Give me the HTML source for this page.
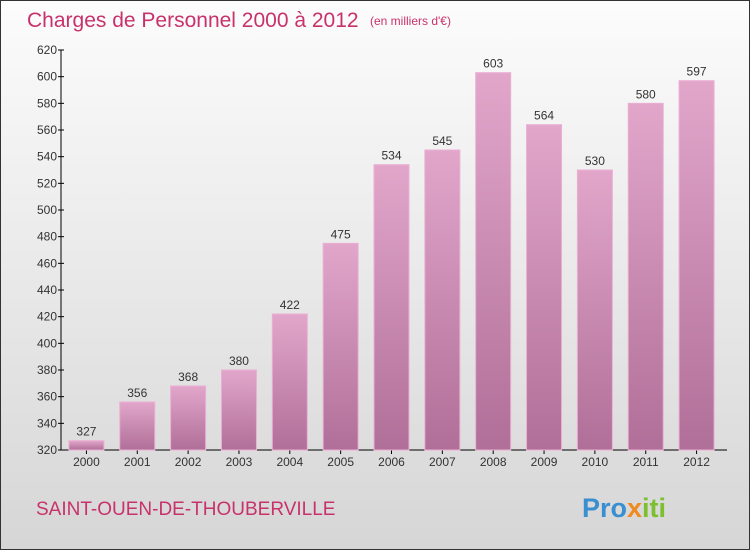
<!DOCTYPE html>
<html><head><meta charset="utf-8"><style>
html,body{margin:0;padding:0}
body{width:750px;height:550px;overflow:hidden;font-family:"Liberation Sans",sans-serif}
#frame{position:absolute;left:0;top:0;width:748px;height:548px;border:1px solid #333;background:linear-gradient(#fcfcfc,#d6d6d6);}
</style></head><body>
<div id="frame">
<svg width="750" height="550" style="position:absolute;left:-1px;top:-1px">
<defs><linearGradient id="bg" x1="0" y1="0" x2="0" y2="1"><stop offset="0" stop-color="#e2a6cb"/><stop offset="1" stop-color="#b06f98"/></linearGradient></defs>
<text x="27" y="27" font-size="21" fill="#c8326a">Charges de Personnel 2000 à 2012</text>
<text x="370" y="25" font-size="12" fill="#c8326a">(en milliers d'€)</text>
<text x="36" y="515" font-size="19" fill="#c8326a">SAINT-OUEN-DE-THOUBERVILLE</text>
<g font-size="27" font-weight="bold">
<text x="582" y="517"><tspan fill="#3a8fd0">Pro</tspan><tspan fill="#f08a1e">x</tspan><tspan fill="#7cbf2f">iti</tspan></text></g>
<g id="axes"></g><g id="bars"></g>
</svg></div>
<script>
const years=["2000","2001","2002","2003","2004","2005","2006","2007","2008","2009","2010","2011","2012"];
const values=[327,356,368,380,422,475,534,545,603,564,530,580,597];
const ticks=[320,340,360,380,400,420,440,460,480,500,520,540,560,580,600,620];
const NS="http://www.w3.org/2000/svg";
const x0=61,x1=722,yMin=320,yMax=620,yTop=50,yBot=450;
const y=v=>yBot-(v-yMin)/(yMax-yMin)*(yBot-yTop);
const step=(x1-x0)/years.length;
const xc=i=>x0+(i+0.5)*step;
function mk(t,a,p){const e=document.createElementNS(NS,t);for(const k in a)e.setAttribute(k,a[k]);p.appendChild(e);return e;}
const ax=document.getElementById('axes'),bs=document.getElementById('bars');
const ya=mk('line',{x1:x0,y1:yTop,x2:x0,y2:yBot,stroke:'#000'},ax);


const xa=mk('line',{x1:x0,y1:yBot,x2:x1+5,y2:yBot,stroke:'#000'},ax);


ticks.forEach(t=>{
 mk('line',{x1:x0-3,x2:x0+3,y1:y(t),y2:y(t),stroke:'#000'},ax);
 const l=mk('text',{x:x0-4,y:y(t)+4,'font-size':12,'text-anchor':'end',fill:'#333'},ax);
 l.textContent=t;
 
 
});
years.forEach((yr,i)=>{
 const v=values[i],bw=35;
 const r=mk('rect',{x:xc(i)-bw/2,y:y(v),width:bw,height:yBot-y(v),fill:'url(#bg)',stroke:'#eab0d2','stroke-width':1},bs);
 
 
 const vl=mk('text',{x:xc(i),y:y(v)-5,'font-size':12,'text-anchor':'middle',fill:'#333'},bs);
 vl.textContent=v;
 
 
 mk('line',{x1:xc(i),x2:xc(i),y1:yBot,y2:yBot+4,stroke:'#000'},ax);
 const xl=mk('text',{x:xc(i),y:yBot+16,'font-size':12,'text-anchor':'middle',fill:'#333'},ax);
 xl.textContent=yr;
 
 
});
</script>
</body></html>
